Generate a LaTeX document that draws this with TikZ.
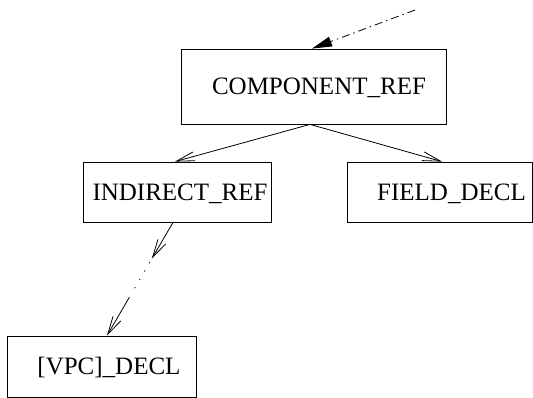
\documentclass[tikz,border=0pt]{standalone}
\usepackage{fontspec}
\setmainfont{Liberation Serif}
\usepackage{tikz}
\usetikzlibrary{arrows.meta}
\usetikzlibrary{calc}
\tikzset{
  treebox/.style = {draw, rectangle, inner sep=0pt, line width=0.8pt},
  boxtext/.style = {inner sep=0pt, text height=16.6pt, text depth=0pt, font=\fontsize{25}{30}\selectfont},
  edge/.style = {line width=0.8pt, -{Straight Barb[length=18pt,width=9pt,line width=0.8pt]}},
  inedge/.style = {line width=0.8pt, dash pattern=on 8pt off 4pt on 1.5pt off 4pt, -{Triangle[length=20pt,width=10pt]}}
}

\begin{document}
\begin{tikzpicture}[x=1pt,y=-1pt]
  \useasboundingbox (0,0) rectangle (533,398);

  \node[treebox, minimum width=265pt, minimum height=75pt] (cref) at (313.5,86.5) {};
  \node[treebox, minimum width=188pt, minimum height=60pt] (iref) at (177,192) {};
  \node[treebox, minimum width=185pt, minimum height=60pt] (fdecl) at (439.5,192) {};
  \node[treebox, minimum width=189pt, minimum height=61pt] (vdecl) at (101.5,366.5) {};

  \node[boxtext, xshift=5.5pt] (creftext) at (cref.center) {COMPONENT\_REF};
  \node[boxtext, xshift=3pt] (ireftext) at (iref.center) {INDIRECT\_REF};
  \node[boxtext, xshift=12pt] (fdecltext) at (fdecl.center) {FIELD\_DECL};
  \node[boxtext, xshift=7.5pt] (vdecltext) at (vdecl.center) {[VPC]\_DECL};

  % incoming reference from above
  \coordinate (from) at (415,10);
  \draw[inedge] (from) -- ([xshift=-1.5pt]cref.north);

  \draw[edge] ([xshift=-3.5pt]cref.south) -- ([xshift=-2pt]iref.north);
  \draw[edge] ([xshift=-3.5pt]cref.south) -- ([xshift=2.5pt]fdecl.north);

  % chain of references, elided
  \coordinate (istart) at ([xshift=-4pt]iref.south);
  \coordinate (vend) at ([xshift=5.5pt]vdecl.north);
  \coordinate (p1) at ($(istart)!0.32!(vend)$);
  \coordinate (p2) at ($(istart)!0.66!(vend)$);
  \draw[edge] (istart) -- (p1);
  \draw[line width=0.8pt, dash pattern=on 1.2pt off 8.5pt, shorten <=4pt, shorten >=4pt] (p1) -- (p2);
  \draw[edge] (p2) -- (vend);
\end{tikzpicture}
\end{document}
